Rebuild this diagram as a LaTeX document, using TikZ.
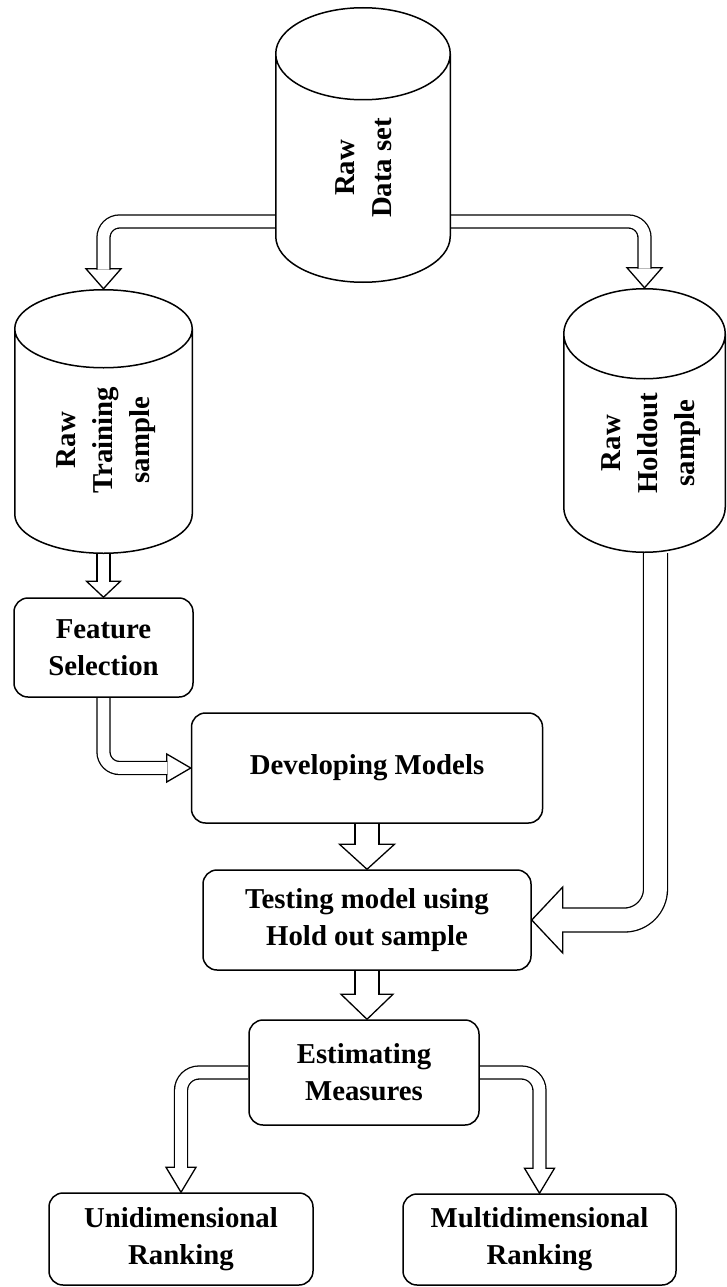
\documentclass[tikz,border=0pt]{standalone}
\usepackage{fontspec}
\setmainfont{Liberation Serif}
\usetikzlibrary{calc,backgrounds}

\begin{document}
\begin{tikzpicture}[
        x=1pt, y=-1pt,
        every node/.style={font=\fontsize{28.8}{37}\selectfont\bfseries},
        box/.style={draw, line width=1.5pt, rounded corners=14pt, fill=white, align=center, inner sep=0pt},
        tank/.style={inner sep=0pt, fill=white, path picture={
            \draw[line width=1.5pt]
                let \p1=(path picture bounding box.north west),
                    \p2=(path picture bounding box.south east),
                    \n1={(\x2-\x1)/2-0.75pt} in
                (\x1+0.75pt,\y1-#1pt-0.75pt) -- (\x1+0.75pt,\y2+#1pt+0.75pt)
                arc[start angle=180, end angle=360, x radius=\n1, y radius=#1pt]
                -- (\x2-0.75pt,\y1-#1pt-0.75pt)
                ({(\x1+\x2)/2},\y1-#1pt-0.75pt) ellipse[x radius=\n1, y radius=#1pt];
        }},
        tanktext/.style={rotate=90, align=center, inner sep=0pt},
        thinpipe/.style={line width=1.3pt, double=white, double distance=11.7pt, rounded corners=#1},
        thinpipe/.default=16pt,
        widepipe/.style={line width=1.3pt, double=white, double distance=22.7pt, rounded corners=#1},
        widepipe/.default=31pt,
        pics/hollowhead/.style 2 args={code={
            \filldraw[fill=white, line width=1.3pt] (-#1/2,-#2) -- (0,0) -- (#1/2,-#2) -- cycle;
        }}
    ]
    \useasboundingbox (0,0) rectangle (727,1287);

    % data stores
    \node[tank=46, minimum width=176pt, minimum height=276pt] (raw) at (363,145) {};
    \node[tank=39, minimum width=179pt, minimum height=265pt] (train) at (103.5,421.5) {};
    \node[tank=45, minimum width=163pt, minimum height=265pt] (hold) at (644.5,420.5) {};
    \node[tanktext] (rawtext) at (364,168) {Raw\\Data set};
    \node[tanktext] (traintext) at (106,440) {Raw\\Training\\sample};
    \node[tanktext] (holdtext) at (651,443) {Raw\\Holdout\\sample};

    % process boxes
    \node[box, minimum width=179pt, minimum height=99pt] (feat) at (103.5,647.5) {Feature\\Selection};
    \node[box, minimum width=351pt, minimum height=110pt] (dev) at (367,768) {Developing Models};
    \node[box, minimum width=328pt, minimum height=100pt] (test) at (367,920) {Testing model using\\Hold out sample};
    \node[box, minimum width=230pt, minimum height=105pt] (est) at (364,1072.5) {Estimating\\Measures};
    \node[box, minimum width=264pt, minimum height=92pt] (uni) at (181,1239) {Unidimensional\\Ranking};
    \node[box, minimum width=273pt, minimum height=91pt] (multi) at (539.5,1239.5) {Multidimensional\\Ranking};

    % hollow arrows
    \begin{scope}[on background layer]
        \pic at (train.north) {hollowhead={35}{20}};
        \draw[thinpipe] ([yshift=-76.5pt]raw.west) -| ([yshift=19.3pt]train.north);
        \pic at (hold.north) {hollowhead={35}{20}};
        \draw[thinpipe] ([yshift=-76.5pt]raw.east) -| ([yshift=19.3pt]hold.north);

        \pic at (feat.north) {hollowhead={34}{16}};
        \draw[thinpipe] (train.south) -- ([yshift=15.3pt]feat.north);
        \pic[rotate=90] at (dev.west) {hollowhead={28}{24}};
        \draw[thinpipe] (feat.south) |- ([xshift=-23.3pt]dev.west);

        \pic at (test.north) {hollowhead={55}{25}};
        \draw[widepipe=0pt] (dev.south) -- ([yshift=24.3pt]test.north);
        \pic[rotate=-90] at (test.east) {hollowhead={66}{31}};
        \draw[widepipe] ([xshift=11pt]hold.south) |- ([xshift=30.3pt]test.east);

        \pic at (test.south |- est.north) {hollowhead={52}{25}};
        \draw[widepipe=0pt] (test.south) -- ([yshift=24.3pt]test.south |- est.north);

        \pic at (uni.north) {hollowhead={30}{25}};
        \draw[thinpipe=18pt] (est.west) -| ([yshift=24.3pt]uni.north);
        \pic at (multi.north) {hollowhead={30}{25}};
        \draw[thinpipe=18pt] (est.east) -| ([yshift=24.3pt]multi.north);
    \end{scope}
\end{tikzpicture}
\end{document}
